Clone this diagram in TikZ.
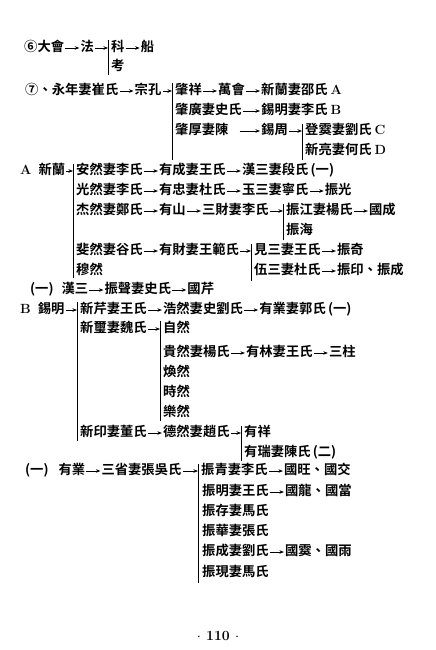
\documentclass[tikz,border=0pt]{standalone}
\usepackage{fontspec}
\newfontfamily\cjk{Noto Sans CJK TC}[BoldFont={Noto Sans CJK TC Bold}]
\usetikzlibrary{positioning,arrows.meta}
\newcommand\latn{\rmfamily\bfseries}

\begin{document}
\begin{tikzpicture}[x=1pt, y=-1pt, node distance = {14pt},
	person/.style = {font=\cjk\bfseries\fontsize{13.3}{13.3}\selectfont, inner sep=1pt, anchor=west, text height=10pt, text depth=2.5pt},
	gen/.style = {-{Stealth[length=4.5pt, width=3.5pt]}, semithick},
	bar/.style = {thick}]
	\useasboundingbox (0,0) rectangle (436,650);

	% line 6
	\node[person] (dahui) at (23,48) {⑥大會};
	\node[person] (fa) [right=of dahui] {法};
	\draw[gen] (dahui) -- (fa);
	\coordinate (b6t) at (108,40);
	\coordinate (b6b) at (108,75);
	\draw[bar] (b6t) -- (b6b);
	\draw[gen] (fa) -- (fa -| b6t);
	\node[person] (ke) at (110,48) {科};
	\node[person] (chuan) [right=of ke] {船};
	\node[person] (kao) at (110,67) {考};
	\draw[gen] (ke) -- (chuan);

	% line 7
	\node[person] (yongnian) at (24,91) {⑦、永年妻崔氏};
	\node[person] (zongkong) [right=of yongnian] {宗孔};
	\draw[gen] (yongnian) -- (zongkong);
	\coordinate (b7t) at (172,83);
	\coordinate (b7b) at (172,160);
	\draw[bar] (b7t) -- (b7b);
	\draw[gen] (zongkong) -- (zongkong -| b7t);
	\node[person] (zhaoxiang) at (174,91) {肇祥};
	\node[person] (wanhui) [right=of zhaoxiang] {萬會};
	\node[person] (xinlan) [right=of wanhui] {新蘭妻邵氏 {\latn A}};
	\draw[gen] (zhaoxiang) -- (wanhui);
	\draw[gen] (wanhui) -- (xinlan);
	\node[person] (zhaoguang) at (174,111) {肇廣妻史氏};
	\node[person] (ximing) at (zhaoguang -| xinlan.west) {錫明妻李氏 {\latn B}};
	\draw[gen] (zhaoguang) -- (ximing);
	\node[person] (zhaohou) at (174,131) {肇厚妻陳};
	\node[person] (xizhou) at (zhaohou -| xinlan.west) {錫周};
	\coordinate (zhgap) at ([xshift=10pt]zhaohou.east);
	\draw[gen] (zhgap) -- (xizhou);
	\coordinate (bct) at (302,124);
	\coordinate (bcb) at (302,160);
	\draw[bar] (bct) -- (bcb);
	\draw[gen] (xizhou) -- (xizhou -| bct);
	\node[person] (dengxia) at (304,131) {登霙妻劉氏 {\latn C}};
	\node[person] (xinliang) at (304,151) {新亮妻何氏 {\latn D}};

	% A
	\node[person] (alan) at (19,171) {{\latn A}\hspace{7pt}新蘭};
	\coordinate (bat) at (73,164);
	\coordinate (bab) at (73,278);
	\draw[bar] (bat) -- (bab);
	\draw[gen] (alan) -- (alan -| bat);
	\node[person] (anran) at (75,171) {安然妻李氏};
	\node[person] (youcheng) [right=of anran] {有成妻王氏};
	\node[person] (hansan) [right=of youcheng] {漢三妻段氏\,(一)};
	\draw[gen] (anran) -- (youcheng);
	\draw[gen] (youcheng) -- (hansan);
	\node[person] (guangran) at (75,191) {光然妻李氏};
	\node[person] (youzhong) [right=of guangran] {有忠妻杜氏};
	\node[person] (yusan) [right=of youzhong] {玉三妻寧氏};
	\node[person] (zhenguang) [right=of yusan] {振光};
	\draw[gen] (guangran) -- (youzhong);
	\draw[gen] (youzhong) -- (yusan);
	\draw[gen] (yusan) -- (zhenguang);
	\node[person] (jieran) at (75,211) {杰然妻鄭氏};
	\node[person] (youshan) [right=of jieran] {有山};
	\node[person] (sancai) [right=of youshan] {三財妻李氏};
	\draw[gen] (jieran) -- (youshan);
	\draw[gen] (youshan) -- (sancai);
	\coordinate (bjt) at (283,204);
	\coordinate (bjb) at (283,240);
	\draw[bar] (bjt) -- (bjb);
	\draw[gen] (sancai) -- (sancai -| bjt);
	\node[person] (zhenjiang) at (285,211) {振江妻楊氏};
	\node[person] (guocheng) [right=of zhenjiang] {國成};
	\draw[gen] (zhenjiang) -- (guocheng);
	\node[person] (zhenhai) at (285,231) {振海};
	\node[person] (feiran) at (75,251) {斐然妻谷氏};
	\node[person] (youcai) [right=of feiran] {有財妻王範氏};
	\draw[gen] (feiran) -- (youcai);
	\coordinate (bft) at (251,244);
	\coordinate (bfb) at (251,281);
	\draw[bar] (bft) -- (bfb);
	\draw[gen] (youcai) -- (youcai -| bft);
	\node[person] (jiansan) at (253,251) {見三妻王氏};
	\node[person] (zhenqi) [right=of jiansan] {振奇};
	\draw[gen] (jiansan) -- (zhenqi);
	\node[person] (muran) at (75,271) {穆然};
	\node[person] (wusan) at (253,271) {伍三妻杜氏};
	\node[person] (zhenyin) [right=of wusan] {振印、振成};
	\draw[gen] (wusan) -- (zhenyin);

	% (1) hansan
	\node[person] (hansan1) at (29,290) {(一)\hspace{8pt}漢三};
	\node[person] (zhensheng) [right=of hansan1] {振聲妻史氏};
	\node[person] (guoqin) [right=of zhensheng] {國芹};
	\draw[gen] (hansan1) -- (zhensheng);
	\draw[gen] (zhensheng) -- (guoqin);

	% B
	\node[person] (bximing) at (19,310) {{\latn B}\hspace{7pt}錫明};
	\coordinate (bbt) at (77,302);
	\coordinate (bbb) at (77,441);
	\draw[bar] (bbt) -- (bbb);
	\draw[gen] (bximing) -- (bximing -| bbt);
	\node[person] (xinqin) at (79,310) {新芹妻王氏};
	\node[person] (haoran) [right=of xinqin] {浩然妻史劉氏};
	\node[person] (youye) [right=of haoran] {有業妻郭氏\,(一)};
	\draw[gen] (xinqin) -- (haoran);
	\draw[gen] (haoran) -- (youye);
	\node[person] (xinxi) at (79,329) {新璽妻魏氏};
	\coordinate (bxt) at (160,321);
	\coordinate (bxb) at (160,421);
	\draw[bar] (bxt) -- (bxb);
	\draw[gen] (xinxi) -- (xinxi -| bxt);
	\node[person] (ziran) at (162,329) {自然};
	\node[person] (guiran) at (162,353) {貴然妻楊氏};
	\node[person] (youlin) [right=of guiran] {有林妻王氏};
	\node[person] (sanzhu) [right=of youlin] {三柱};
	\draw[gen] (guiran) -- (youlin);
	\draw[gen] (youlin) -- (sanzhu);
	\node[person] (huanran) at (162,373) {煥然};
	\node[person] (shiran) at (162,393) {時然};
	\node[person] (leran) at (162,413) {樂然};
	\node[person] (xinyin) at (79,433) {新印妻董氏};
	\node[person] (deran) [right=of xinyin] {德然妻趙氏};
	\draw[gen] (xinyin) -- (deran);
	\coordinate (bdt) at (241,426);
	\coordinate (bdb) at (241,461);
	\draw[bar] (bdt) -- (bdb);
	\draw[gen] (deran) -- (deran -| bdt);
	\node[person] (youxiang) at (243,433) {有祥};
	\node[person] (yourui) at (243,453) {有瑞妻陳氏\,(二)};

	% (1) youye
	\node[person] (youye1) at (24,471) {(一)\hspace{10pt}有業};
	\node[person] (sansheng) [right=of youye1] {三省妻張吳氏};
	\draw[gen] (youye1) -- (sansheng);
	\coordinate (bst) at (198,464);
	\coordinate (bsb) at (198,583);
	\draw[bar] (bst) -- (bsb);
	\draw[gen] (sansheng) -- (sansheng -| bst);
	\node[person] (zhenqing) at (200,471) {振青妻李氏};
	\node[person] (guowang) [right=of zhenqing] {國旺、國交};
	\draw[gen] (zhenqing) -- (guowang);
	\node[person] (zhenming) at (201,492) {振明妻王氏};
	\node[person] (guolong) [right=of zhenming] {國龍、國當};
	\draw[gen] (zhenming) -- (guolong);
	\node[person] (zhencun) at (201,512) {振存妻馬氏};
	\node[person] (zhenhua) at (201,532) {振華妻張氏};
	\node[person] (zhencheng) at (201,552) {振成妻劉氏};
	\node[person] (guoxia) [right=of zhencheng] {國霙、國雨};
	\draw[gen] (zhencheng) -- (guoxia);
	\node[person] (zhenxian) at (201,573) {振現妻馬氏};

	% page number
	\node[font=\bfseries\fontsize{14}{14}\selectfont] (page) at (218,636) {$\cdot$ 110 $\cdot$};
\end{tikzpicture}
\end{document}
